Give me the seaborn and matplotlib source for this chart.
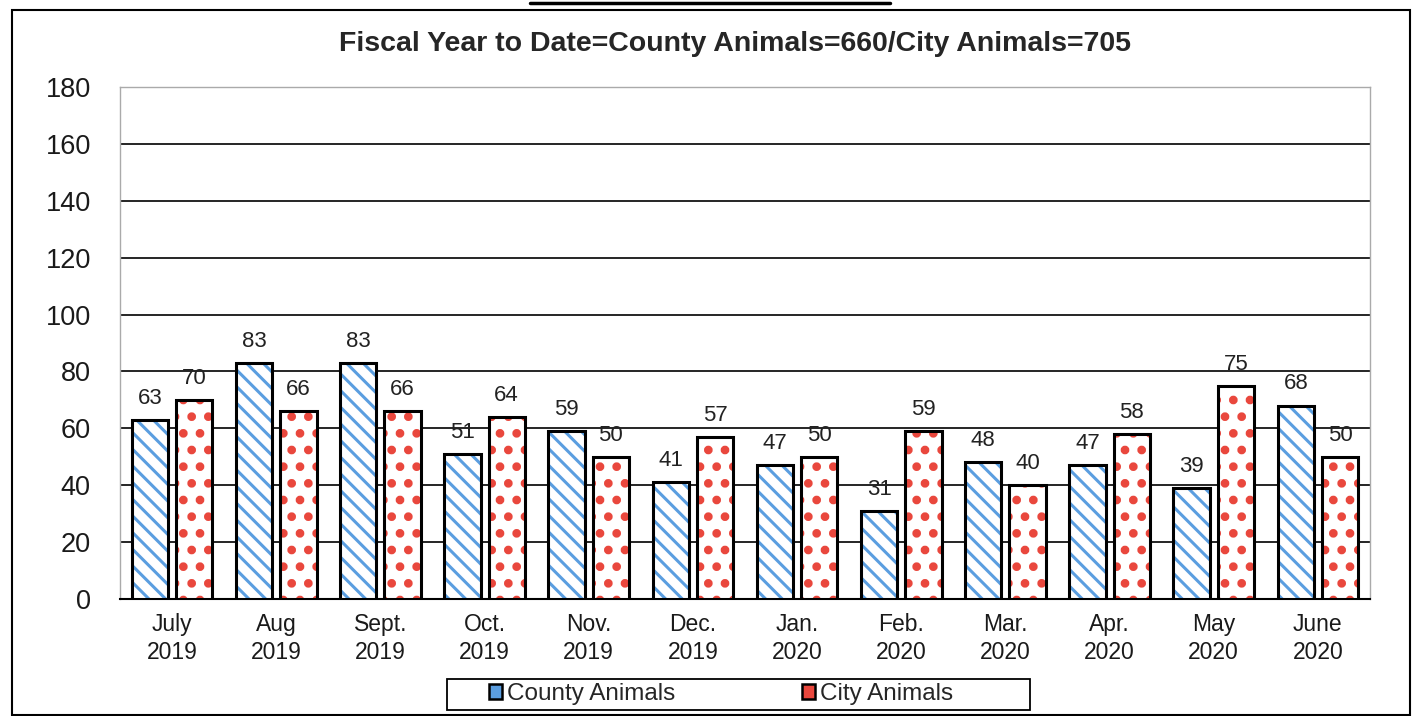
import pandas as pd
import matplotlib.pyplot as plt
import seaborn as sns
from matplotlib.patches import Rectangle
from matplotlib.lines import Line2D

# data
months = ["July\n2019", "Aug\n2019", "Sept.\n2019", "Oct.\n2019", "Nov.\n2019", "Dec.\n2019",
          "Jan.\n2020", "Feb.\n2020", "Mar.\n2020", "Apr.\n2020", "May\n2020", "June\n2020"]
county = [63, 83, 83, 51, 59, 41, 47, 31, 48, 47, 39, 68]
city = [70, 66, 66, 64, 50, 57, 50, 59, 40, 58, 75, 50]
series = ["County Animals", "City Animals"]
title = "Fiscal Year to Date=County Animals=660/City Animals=705"

df = pd.DataFrame({"month": months * 2,
                   "count": county + city,
                   "series": [series[0]] * 12 + [series[1]] * 12})

sns.set_style("white")
plt.rcParams["font.family"] = ["Liberation Sans", "DejaVu Sans"]
plt.rcParams["hatch.linewidth"] = 2.2

blue = "#5b9ee0"
red = "#e9473d"

fig = plt.figure(figsize=(14.18, 7.16), dpi=100)
ax = fig.add_axes([120 / 1418, 1 - 599 / 716, 1250 / 1418, 512 / 716])

sns.barplot(data=df, x="month", y="count", hue="series", order=months,
            palette=[blue, red], width=0.85, gap=0.18, ax=ax, legend=False, zorder=3)

# recolour bars as hatched, then add black outline on top
hatches = {0: "\\\\", 1: "."}
hatch_lw = {0: 2.2, 1: 3.8}
for i, cont in enumerate(ax.containers):
    col = blue if i == 0 else red
    for p in cont:
        p.set_facecolor("white")
        p.set_edgecolor(col)
        p.set_hatch(hatches[i])
        if hasattr(p, "set_hatch_linewidth"):
            p.set_hatch_linewidth(hatch_lw[i])
        p.set_linewidth(0)
        ax.add_patch(Rectangle((p.get_x(), 0), p.get_width(), p.get_height(),
                               fill=False, edgecolor="black", linewidth=2.2, zorder=4))
    ax.bar_label(cont, padding=8, fontsize=16, color="#222222")

ax.set_ylim(0, 180)
ax.set_yticks(range(0, 181, 20))
ax.yaxis.grid(True, color="black", linewidth=1.2)
ax.set_axisbelow(True)
ax.set_xlabel("")
ax.set_ylabel("")
ax.tick_params(axis="y", labelsize=19.5, pad=21, length=0, labelcolor="#1a1a1a")
ax.tick_params(axis="x", labelsize=16.5, pad=10, length=0, labelcolor="#1a1a1a")
for lab in ax.get_xticklabels():
    lab.set_linespacing(1.3)
for s in ["left", "right", "top"]:
    ax.spines[s].set_color("#aaaaaa")
    ax.spines[s].set_linewidth(1)
ax.spines["bottom"].set_color("black")
ax.spines["bottom"].set_linewidth(1.5)

fig.text(735 / 1418, 1 - 44 / 716, title, ha="center", va="center",
         fontsize=20.5, fontweight="bold")

handles = [Rectangle((0, 0), 1, 1, facecolor=blue, edgecolor="black", linewidth=1.8),
           Rectangle((0, 0), 1, 1, facecolor=red, edgecolor="black", linewidth=1.8)]
fig.legend(handles, series, loc="center", bbox_to_anchor=(721 / 1418, 1 - 694 / 716),
           ncol=2, fontsize=17.5, frameon=False,
           handlelength=0.55, handleheight=0.55, handletextpad=0.2, columnspacing=5.2)
fig.patches.append(Rectangle((447 / 1418, 1 - 710 / 716), 583 / 1418, 31 / 716,
                             transform=fig.transFigure, fill=False,
                             edgecolor="black", linewidth=1.3))

# outer border of the scanned chart and the stray line above it
fig.patches.append(Rectangle((12 / 1418, 1 / 716), 1398 / 1418, 705 / 716,
                             transform=fig.transFigure, fill=False,
                             edgecolor="black", linewidth=1.5))
fig.lines.append(Line2D([530 / 1418, 890 / 1418], [1 - 3 / 716, 1 - 3 / 716],
                        transform=fig.transFigure, color="black", linewidth=2.5))

fig.savefig("out.png", dpi=100)
